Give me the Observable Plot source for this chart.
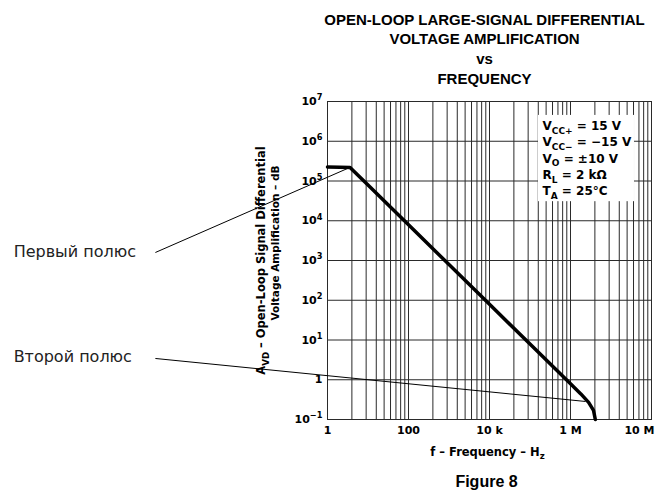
<!DOCTYPE html>
<html><head><meta charset="utf-8">
<script src="https://cdn.jsdelivr.net/npm/d3@7"></script>
<script src="https://cdn.jsdelivr.net/npm/@observablehq/plot@0.6"></script>
<style>
html,body{margin:0;padding:0;background:#fff;}
#chart svg{display:block}
</style></head><body><div id="chart"></div>
<script>
// ---- data ----
const freqHz  = [1, 2, 3.6, 10, 100, 1e3, 1e4, 1e5, 1e6, 1.8e6, 2.8e6, 3.7e6, 4.1e6];
const gainAVD = [2.25e5, 2.22e5, 2.2e5, 7.9e4, 7.9e3, 790, 79, 7.9, 0.79, 0.44, 0.27, 0.17, 0.1];

const yTicks = [1e-1, 1, 1e1, 1e2, 1e3, 1e4, 1e5, 1e6, 1e7];
const yTickLabels = ["10^{−1}", "1", "10^{1}", "10^{2}", "10^{3}", "10^{4}", "10^{5}", "10^{6}", "10^{7}"];
const xTicks = [1, 1e2, 1e4, 1e6, 1e8];
const xTickLabels = ["1", "100", "10 k", "1 M", "10 M"];
const gridBlockBases = [1, 1e2, 1e4, 1e6];
const gridSubSteps = [2, 3, 4, 5, 6, 7, 8, 9];

const titleLines = ["OPEN-LOOP LARGE-SIGNAL DIFFERENTIAL", "VOLTAGE AMPLIFICATION", "vs", "FREQUENCY"];
const legendRows = ["V_{CC+} = 15 V", "V_{CC−} = −15 V", "V_{O} = ±10 V", "R_{L} = 2 kΩ", "T_{A} = 25°C"];
const yLabelLines = ["A_{VD} – Open-Loop Signal Differential", "Voltage Amplification – dB"];
const xLabel = "f – Frequency – H_{z}";
const figureLabel = "Figure 8";

const poleLabels = ["Первый полюс", "Второй полюс"];
const poleFreq = [3.6, 2.35e6];
const poleGain = [2.2e5, 0.284];
const labelFreq = [10 ** -7.75, 10 ** -7.75];
const labelGain = [1680, 3.85];
const leaderFreq = [10 ** -4.25, 10 ** -4.25];
const leaderGain = [1590, 3.43];
const legendBox = {x1: 10 ** 5.21, x2: 10 ** 7.58, y1: 10 ** 4.48, y2: 10 ** 6.65};

// ---- derived tables ----
const curve = freqHz.map((f, i) => ({f, a: gainAVD[i]}));
const gridX = [];
for (const b of gridBlockBases) { gridX.push(b); for (const k of gridSubSteps) gridX.push(b * k * k); }
gridX.push(1e8);
const poles = poleLabels.map((label, i) => ({label, fp: poleFreq[i], ap: poleGain[i], tx: labelFreq[i], ty: labelGain[i], lx: leaderFreq[i], ly: leaderGain[i]}));
const lastTick = xTicks.length - 1;

const SMALL = "'DejaVu Sans', sans-serif";
const ARIAL = "'Liberation Sans', Arial, sans-serif";
const titleDy = [-87, -68, -48, -28];

const marks = [
  Plot.ruleX(gridX, {stroke: "#2a2a2a", strokeWidth: 1}),
  Plot.ruleY(yTicks, {stroke: "#2a2a2a", strokeWidth: 1}),
  Plot.rect([legendBox], {x1: "x1", x2: "x2", y1: "y1", y2: "y2", fill: "white"}),
  Plot.frame({stroke: "#2a2a2a"}),
  Plot.line(curve, {x: "f", y: "a", stroke: "black", strokeWidth: 3.5, strokeLinejoin: "round"}),
  Plot.link(poles, {x1: "lx", y1: "ly", x2: "fp", y2: "ap", stroke: "black", strokeWidth: 1}),
  Plot.text(poles, {x: "tx", y: "ty", text: "label", textAnchor: "start", fontFamily: SMALL, fontWeight: "normal", fontSize: 16, fill: "#222"}),
  Plot.axisX(xTicks.slice(0, lastTick), {tickSize: 0, tickPadding: 7, tickFormat: d => xTickLabels[xTicks.indexOf(d)], fontSize: 11, fontWeight: "bold", fontFamily: SMALL, label: null}),
  Plot.axisX([xTicks[lastTick]], {tickSize: 0, tickPadding: 7, tickFormat: () => xTickLabels[lastTick], textAnchor: "end", dx: 3, fontSize: 11, fontWeight: "bold", fontFamily: SMALL, label: null}),
  Plot.axisY(yTicks, {tickSize: 0, tickPadding: 5, tickFormat: d => yTickLabels[yTicks.indexOf(d)], fontSize: 11, fontWeight: "bold", fontFamily: SMALL, label: null}),
  ...titleLines.map((t, i) => Plot.text([t], {frameAnchor: "top", dx: -5, dy: titleDy[i], fontFamily: ARIAL, fontWeight: "bold", fontSize: 15})),
  ...legendRows.map((t, i) => Plot.text([t], {frameAnchor: "top-right", textAnchor: "start", dx: -109, dy: 20 + 16.3 * i, fontFamily: SMALL, fontWeight: "bold", fontSize: 12})),
  Plot.text([yLabelLines[0]], {frameAnchor: "left", textAnchor: "middle", rotate: -90, dx: -66, dy: 0, fontFamily: SMALL, fontWeight: "bold", fontSize: 11.5}),
  Plot.text([yLabelLines[1]], {frameAnchor: "left", textAnchor: "middle", rotate: -90, dx: -52, dy: -17.5, fontFamily: SMALL, fontWeight: "bold", fontSize: 10.5}),
  Plot.text([xLabel], {frameAnchor: "bottom", dx: -2, dy: 36, fontFamily: SMALL, fontWeight: "bold", fontSize: 11.5}),
  Plot.text([figureLabel], {frameAnchor: "bottom", dx: -3, dy: 67, fontFamily: ARIAL, fontWeight: "bold", fontSize: 16})
];

const chart = Plot.plot({
  width: 655, height: 491,
  marginLeft: 327, marginRight: 4, marginTop: 101, marginBottom: 72,
  x: {type: "log", domain: [1, 1e8], axis: null},
  y: {type: "log", domain: [1e-1, 1e7], axis: null},
  style: {background: "white", color: "black", fontFamily: SMALL, overflow: "visible"},
  marks
});
document.getElementById("chart").appendChild(chart);

// turn _{..} / ^{..} markup into real sub/superscript tspans
const NS = "http://www.w3.org/2000/svg";
function richify(el) {
  const s = el.textContent;
  if (!/[_^]\{/.test(s)) return;
  const fs = parseFloat(getComputedStyle(el).fontSize) || 11;
  while (el.firstChild) el.removeChild(el.firstChild);
  let shift = 0;
  const add = (txt, kind) => {
    if (!txt) return;
    const t = document.createElementNS(NS, "tspan");
    t.textContent = txt;
    const target = kind === "_" ? fs * 0.3 : kind === "^" ? -fs * 0.42 : 0;
    if (target - shift !== 0) t.setAttribute("dy", target - shift);
    shift = target;
    if (kind) t.setAttribute("font-size", (fs * 0.75).toFixed(2));
    el.appendChild(t);
  };
  const re = /([_^])\{([^}]*)\}/g;
  let last = 0, m;
  while ((m = re.exec(s))) {
    add(s.slice(last, m.index), null);
    add(m[2], m[1]);
    last = re.lastIndex;
  }
  add(s.slice(last), null);
}
chart.querySelectorAll("text, tspan").forEach(el => {
  if ([...el.childNodes].every(n => n.nodeType === 3)) richify(el);
});
</script>
</body></html>
